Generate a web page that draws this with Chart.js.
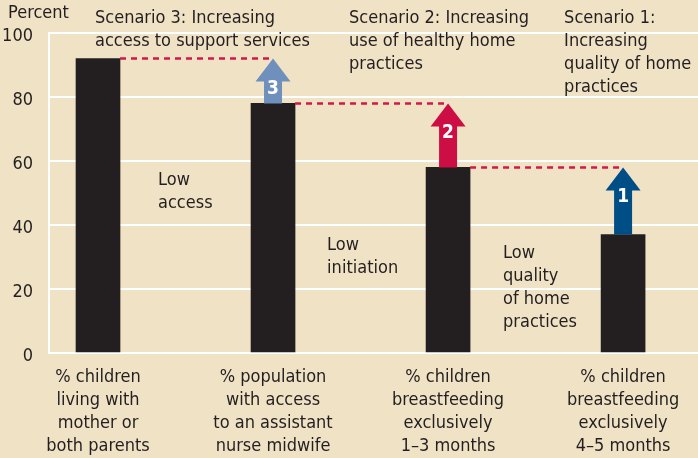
<!DOCTYPE html>
<html>
<head>
<meta charset="utf-8">
<script src="https://cdn.jsdelivr.net/npm/chart.js@4/dist/chart.umd.min.js"></script>
<style>
  html, body { margin: 0; padding: 0; background: #f0e2c5; }
</style>
</head>
<body>
<canvas id="chart" width="698" height="458"></canvas>
<script>
// data
const categories = [
  ["% children", "living with", "mother or", "both parents"],
  ["% population", "with access", "to an assistant", "nurse midwife"],
  ["% children", "breastfeeding", "exclusively", "1\u20133 months"],
  ["% children", "breastfeeding", "exclusively", "4\u20135 months"]
];
const values = [92, 78, 58, 37];
const yTicks = [0, 20, 40, 60, 80, 100];
const arrowNumbers = ["3", "2", "1"];

const FONT = "'DejaVu Sans Condensed', 'Liberation Sans Narrow', sans-serif";
const ink = "#231f20";
const arrowColors = ["#6f8fbd", "#cc0e45", "#004e86"];

// text notes, anchored in axis units (x = category index, y = percent)
const notes = [
  { x: -0.514, y: 106, lines: ["Percent"] },
  { x: -0.017, y: 104.7, lines: ["Scenario 3: Increasing", "access to support services"] },
  { x: 1.434, y: 104.7, lines: ["Scenario 2: Increasing", "use of healthy home", "practices"] },
  { x: 2.663, y: 104.7, lines: ["Scenario 1:", "Increasing", "quality of home", "practices"] },
  { x: 0.343, y: 54.1, lines: ["Low", "access"] },
  { x: 1.309, y: 33.8, lines: ["Low", "initiation"] },
  { x: 2.314, y: 31.3, lines: ["Low", "quality", "of home", "practices"] }
];

const scenarioPlugin = {
  id: "scenarios",
  afterDatasetsDraw(chart) {
    const { ctx } = chart;
    const y = chart.scales.y;
    const bars = chart.getDatasetMeta(0).data;
    ctx.save();
    // dashed links from each bar top to the next bar
    ctx.strokeStyle = "#d3174a";
    ctx.lineWidth = 2.5;
    ctx.setLineDash([6, 5]);
    for (let i = 0; i < values.length - 1; i++) {
      const yy = y.getPixelForValue(values[i]);
      ctx.beginPath();
      ctx.moveTo(bars[i].x + bars[i].width / 2, yy);
      ctx.lineTo(bars[i + 1].x, yy);
      ctx.stroke();
    }
    ctx.setLineDash([]);
    // arrows rising from each bar to the previous bar's level
    for (let i = 1; i < values.length; i++) {
      const cx = bars[i].x;
      const y0 = y.getPixelForValue(values[i]);
      const y1 = y.getPixelForValue(values[i - 1]);
      const base = y1 + 23;
      ctx.fillStyle = arrowColors[i - 1];
      ctx.beginPath();
      ctx.moveTo(cx - 9, y0);
      ctx.lineTo(cx - 9, base);
      ctx.lineTo(cx - 17.5, base);
      ctx.lineTo(cx, y1);
      ctx.lineTo(cx + 17.5, base);
      ctx.lineTo(cx + 9, base);
      ctx.lineTo(cx + 9, y0);
      ctx.closePath();
      ctx.fill();
      ctx.fillStyle = "#fff";
      ctx.font = "bold 19px " + FONT;
      ctx.textAlign = "center";
      ctx.textBaseline = "middle";
      ctx.fillText(arrowNumbers[i - 1], cx, base + 7);
    }
    ctx.restore();
  },
  afterDraw(chart) {
    const { ctx } = chart;
    const x = chart.scales.x, y = chart.scales.y;
    ctx.save();
    ctx.fillStyle = ink;
    ctx.font = "18px " + FONT;
    ctx.textAlign = "left";
    ctx.textBaseline = "middle";
    notes.forEach(n => {
      const px = x.getPixelForValue(n.x);
      const py = y.getPixelForValue(n.y);
      n.lines.forEach((t, k) => ctx.fillText(t, px, py + k * 23));
    });
    ctx.restore();
  }
};

new Chart(document.getElementById("chart"), {
  type: "bar",
  data: {
    datasets: [{
      data: values.map((v, i) => ({ x: i, y: v })),
      backgroundColor: ink,
      barThickness: 44
    }]
  },
  options: {
    responsive: false,
    animation: false,
    layout: { padding: { top: 33, left: 0, right: 0, bottom: 0 } },
    plugins: { legend: { display: false }, tooltip: { enabled: false } },
    scales: {
      x: {
        type: "linear",
        offset: false,
        min: -0.28,
        max: 3.428,
        grid: { display: false, drawTicks: false, offset: false },
        border: { display: false },
        afterBuildTicks: axis => { axis.ticks = categories.map((_, i) => ({ value: i })); },
        afterFit: axis => { axis.height = 105; },
        ticks: {
          callback: v => categories[v] || "",
          font: { family: FONT, size: 18, lineHeight: 23 / 18 },
          color: ink,
          padding: 13,
          maxRotation: 0,
          minRotation: 0,
          autoSkip: false
        }
      },
      y: {
        min: 0,
        max: 100,
        grid: { color: "#fff", lineWidth: 2, drawTicks: false },
        border: { display: true, color: "#fff", width: 2 },
        afterBuildTicks: axis => { axis.ticks = yTicks.map(v => ({ value: v })); },
        afterFit: axis => { axis.width = 49; },
        ticks: {
          font: { family: FONT, size: 18 },
          color: ink,
          padding: 16,
          labelOffset: 3
        }
      }
    }
  },
  plugins: [scenarioPlugin]
});
</script>
</body>
</html>
